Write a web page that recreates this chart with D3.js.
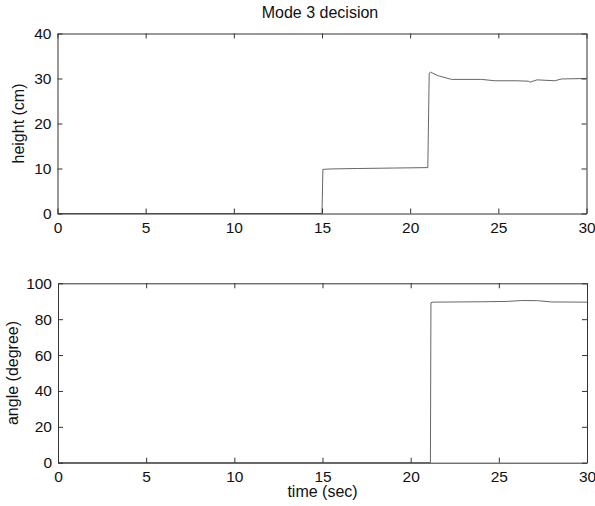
<!DOCTYPE html>
<html>
<head>
<meta charset="utf-8">
<script src="https://cdn.jsdelivr.net/npm/d3@7"></script>
<style>
  body { margin: 0; background: #fff; }
  text { font-family: "Liberation Sans", Arial, sans-serif; fill: #111; }
</style>
</head>
<body>
<script>
// height response (cm) over time (sec)
var heightTime = [0, 15.0, 15.05, 15.5, 17, 19, 21.0, 21.08, 21.15, 21.6, 22.35, 24.05, 24.8, 26.0, 26.7, 26.8, 27.2, 28.2, 28.6, 29.98, 30];
var heightVals = [0, 0, 9.8, 9.9, 10.0, 10.1, 10.2, 31.2, 31.4, 30.6, 29.8, 29.8, 29.5, 29.5, 29.4, 29.2, 29.7, 29.5, 29.9, 30.0, 30.2];

// angle response (degree) over time (sec)
var angleTime = [0, 21.12, 21.15, 21.28, 24.0, 25.5, 26.3, 27.2, 28.0, 29.9, 30];
var angleVals = [0, 0, 89.2, 89.5, 89.7, 89.9, 90.4, 90.3, 89.6, 89.5, 89.5];

var xTicks = [0, 5, 10, 15, 20, 25, 30];
var heightTicks = [0, 10, 20, 30, 40];
var angleTicks = [0, 20, 40, 60, 80, 100];

var svgwidth = 595, svgheight = 506;

var svg = d3.select('body').append('svg')
    .attr('width', svgwidth)
    .attr('height', svgheight);

// one matlab-style panel: boxed axes, ticks pointing inward
function panel(box, times, vals, yDomain, yTicks, ylabel, ylabelX) {
    var x = d3.scaleLinear().domain([0, 30]).range([box.left, box.right]);
    var y = d3.scaleLinear().domain(yDomain).range([box.bottom, box.top]);

    var g = svg.append('g');

    // data line
    var line = d3.line()
        .x(function (d, i) { return x(times[i]); })
        .y(function (d) { return y(d); });
    g.append('path')
        .datum(vals)
        .attr('d', line)
        .attr('fill', 'none')
        .attr('stroke', '#666')
        .attr('stroke-width', 1);

    var bottom = g.append('g')
        .attr('transform', 'translate(0,' + box.bottom + ')')
        .call(d3.axisBottom(x).tickValues(xTicks).tickSizeInner(-5).tickSizeOuter(0).tickPadding(8));
    var left = g.append('g')
        .attr('transform', 'translate(' + box.left + ',0)')
        .call(d3.axisLeft(y).tickValues(yTicks).tickSizeInner(-5).tickSizeOuter(0).tickPadding(6));
    var top = g.append('g')
        .attr('transform', 'translate(0,' + box.top + ')')
        .call(d3.axisTop(x).tickValues(xTicks).tickSizeInner(-5).tickSizeOuter(0).tickFormat(''));
    var right = g.append('g')
        .attr('transform', 'translate(' + box.right + ',0)')
        .call(d3.axisRight(y).tickValues(yTicks).tickSizeInner(-5).tickSizeOuter(0).tickFormat(''));

    [bottom, left, top, right].forEach(function (a) {
        a.selectAll('path, line').attr('stroke', '#333');
        a.selectAll('text')
            .style('font-family', '"Liberation Sans", Arial, sans-serif')
            .style('font-size', '15.5px')
            .attr('fill', '#111');
    });

    // y axis label
    g.append('text')
        .attr('text-anchor', 'middle')
        .attr('transform', 'translate(' + ylabelX + ',' + ((box.top + box.bottom) / 2) + ') rotate(-90)')
        .style('font-size', '16px')
        .text(ylabel);

    return x;
}

panel({ left: 57.5, right: 586.5, top: 33.5, bottom: 213.5 },
    heightTime, heightVals, [0, 40], heightTicks, 'height (cm)', 24);

var xb = panel({ left: 58, right: 587, top: 283.3, bottom: 462.7 },
    angleTime, angleVals, [0, 100], angleTicks, 'angle (degree)', 18);

// title
svg.append('text')
    .attr('x', 320)
    .attr('y', 18)
    .attr('text-anchor', 'middle')
    .style('font-size', '16px')
    .text('Mode 3 decision');

// x axis label
svg.append('text')
    .attr('x', xb(15))
    .attr('y', 497)
    .attr('text-anchor', 'middle')
    .style('font-size', '16px')
    .text('time (sec)');
</script>
</body>
</html>
